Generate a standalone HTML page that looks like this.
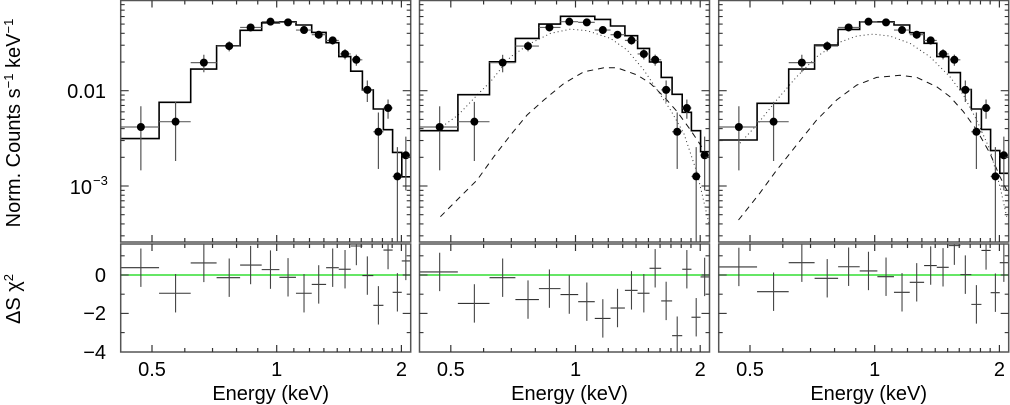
<!DOCTYPE html>
<html><head><meta charset="utf-8"><style>
body{margin:0;background:#fff}
svg{display:block;font-family:"Liberation Sans",sans-serif}
</style></head><body>
<svg id="c" width="1010" height="405" viewBox="0 0 1010 405" xmlns="http://www.w3.org/2000/svg">
<text x="0" y="0" transform="translate(20,123) rotate(-90)" text-anchor="middle" font-size="20">Norm. Counts s<tspan font-size="13" dy="-7">−1</tspan><tspan dy="7"> keV</tspan><tspan font-size="13" dy="-7">−1</tspan></text>
<text x="0" y="0" transform="translate(20,299) rotate(-90)" text-anchor="middle" font-size="20">ΔS χ<tspan font-size="13" dy="-7">2</tspan></text>
<text x="106" y="98" text-anchor="end" font-size="20">0.01</text>
<text x="92" y="194" text-anchor="end" font-size="20">10</text>
<text x="93" y="185" font-size="13">−3</text>
<text x="106" y="282" text-anchor="end" font-size="20">0</text>
<text x="106" y="320" text-anchor="end" font-size="20">−2</text>
<text x="106" y="359" text-anchor="end" font-size="20">−4</text>
</svg>
<script>
const binEdges=[0.420,0.520,0.620,0.716,0.816,0.920,1.015,1.113,1.215,1.316,1.412,1.509,1.61,1.711,1.81,1.905,2.004,2.107];
const energies=[0.47,0.57,0.667,0.768,0.865,0.966,1.065,1.164,1.263,1.365,1.462,1.557,1.655,1.76,1.857,1.956,2.05];
const counts=[0.00416,0.00473,0.0197,0.0294,0.0461,0.0530,0.0521,0.0433,0.0387,0.0337,0.0243,0.0211,0.0102,0.00371,0.00658,0.00126,0.00210];
const countErr=[0.0027,0.0029,0.0041,0.0035,0.004,0.0043,0.0042,0.0036,0.0035,0.0033,0.003,0.0028,0.0026,0.0022,0.0015,0.0013,0.0012];
const model1=[0.00314,0.00755,0.01687,0.0296,0.0430,0.0516,0.0529,0.0489,0.0409,0.0319,0.0228,0.0160,0.0102,0.00643,0.0039,0.00225,0.00125];
const model2=[0.0038,0.00908,0.0201,0.0354,0.050,0.0603,0.0603,0.056,0.0477,0.0378,0.0278,0.020,0.0138,0.00916,0.00593,0.0038,0.00229];
const model3=[0.00304,0.00737,0.01687,0.0301,0.0440,0.0529,0.0529,0.0489,0.0406,0.0314,0.0228,0.0155,0.0103,0.00643,0.00393,0.00235,0.00136];
const dot2E=[0.476,0.521,0.579,0.623,0.697,0.779,0.870,0.973,1.067,1.215,1.333,1.462,1.575,1.696,1.826,1.967,2.099];
const dot2V=[0.00419,0.00556,0.00901,0.0124,0.0227,0.0314,0.0399,0.0443,0.0426,0.0354,0.0267,0.0165,0.0102,0.00627,0.00357,0.00136,0.000406];
const dash2E=[0.472,0.527,0.579,0.635,0.697,0.764,0.839,0.937,1.047,1.171,1.26,1.409,1.517,1.635,1.76,1.895,2.04,2.099];
const dash2V=[0.000476,0.000773,0.00116,0.00203,0.00343,0.00556,0.00798,0.0119,0.0158,0.0174,0.0174,0.0146,0.0119,0.00865,0.00602,0.00387,0.00239,0.00195];
const dot3E=[0.473,0.519,0.580,0.648,0.724,0.809,0.905,0.992,1.089,1.217,1.36,1.52,1.637,1.763,1.898,2.007,2.083];
const dot3V=[0.00281,0.00437,0.00798,0.0140,0.0227,0.0314,0.0374,0.0393,0.0374,0.0314,0.0227,0.0140,0.00901,0.00492,0.00239,0.000984,0.000476];
const dash3E=[0.469,0.528,0.580,0.648,0.724,0.809,0.905,1.011,1.151,1.263,1.412,1.52,1.637,1.763,1.898,2.007,2.083];
const dash3V=[0.00044,0.00084,0.00147,0.00269,0.00492,0.00798,0.01146,0.0138,0.0145,0.0138,0.0110,0.00865,0.00602,0.00387,0.0022,0.00125,0.00091];
const resid1=[0.38,-0.95,0.63,-0.14,0.52,0.28,-0.12,-0.95,-0.49,0.38,0.30,1.51,-0.03,-1.58,1.30,-0.9,0.73];
const resid2=[0.16,-1.48,-0.14,-1.28,-0.71,-1.02,-1.39,-2.26,-1.72,-0.80,-0.95,0.35,-1.35,-3.16,0.30,-2.2,-0.1];
const resid3=[0.42,-0.87,0.64,-0.17,0.43,0.21,-0.09,-0.9,-0.38,0.49,0.40,1.53,0.02,-1.53,1.28,-0.92,0.64];
const xTickLabels=["0.5","1","2"];
const xTickValues=[0.5,1,2];

const NS="http://www.w3.org/2000/svg";
const svg=document.getElementById('c');
const X1=[276.7,575.5,874.7];
const PPO=124.7;
const TOP=0.5,BOT=242,RT=244,RB=352;
function xs(p,E){return X1[p]+PPO*Math.log2(E);}
function ys(v){return 90.7-95.3*(Math.log10(v)+2);}
function yr(r){return 275-19.2*r;}
function mk(tag,attrs,parent){const e=document.createElementNS(NS,tag);for(const k in attrs)e.setAttribute(k,attrs[k]);(parent||svg).appendChild(e);return e;}

const models=[model1,model2,model3];
const resids=[resid1,resid2,resid3];
const comps=[null,[dot2E,dot2V,dash2E,dash2V],[dot3E,dot3V,dash3E,dash3V]];

for(let p=0;p<3;p++){
  const L=X1[p]-156,R=X1[p]+134;
  const g=mk('g',{});
  
  
  const defs=mk('defs',{},g);
  const cp=mk('clipPath',{id:'cp'+p},defs);
  mk('rect',{x:L,y:TOP,width:R-L,height:BOT-TOP},cp);
  const cr=mk('clipPath',{id:'cr'+p},defs);
  mk('rect',{x:L,y:RT,width:R-L,height:RB-RT},cr);
  const top=mk('g',{'clip-path':'url(#cp'+p+')'},g);
  if(comps[p]){
    const [de,dv,se,sv]=comps[p];
    let d='';de.forEach((e,i)=>{d+=(i?'L':'M')+xs(p,e).toFixed(1)+','+ys(dv[i]).toFixed(1);});
    const dl=mk('path',{d:d,fill:'none',stroke:'#333','stroke-width':1,'stroke-dasharray':'1,3'},top);
    
    
    d='';se.forEach((e,i)=>{d+=(i?'L':'M')+xs(p,e).toFixed(1)+','+ys(sv[i]).toFixed(1);});
    const sl=mk('path',{d:d,fill:'none',stroke:'#111','stroke-width':1,'stroke-dasharray':'6,5'},top);
    
    
  }
  const m=models[p];let d='';
  m.forEach((v,i)=>{const y=ys(v).toFixed(1);d+=(i?'L':'M')+xs(p,binEdges[i]).toFixed(1)+','+y+'L'+xs(p,binEdges[i+1]).toFixed(1)+','+y;});
  const ml=mk('path',{d:d,fill:'none',stroke:'#000','stroke-width':1.6},top);
  
  
  energies.forEach((e,i)=>{
    const cx=xs(p,e),cy=ys(counts[i]);
    const lo=Math.max(counts[i]-countErr[i],1e-5),hi=counts[i]+countErr[i];
    const pg=mk('g',{},top);
    
    
    mk('line',{x1:xs(p,binEdges[i]),x2:xs(p,binEdges[i+1]),y1:cy,y2:cy,stroke:'#666','stroke-width':1.2},pg);
    mk('line',{x1:cx,x2:cx,y1:ys(hi),y2:ys(lo),stroke:'#555','stroke-width':1.2},pg);
    mk('circle',{cx:cx,cy:cy,r:4,fill:'#000'},pg);
  });
  const rg=mk('g',{'clip-path':'url(#cr'+p+')'},g);
  const zl=mk('line',{x1:L,x2:R,y1:yr(0),y2:yr(0),stroke:'#33dd33','stroke-width':1.5},rg);
  
  
  resids[p].forEach((r,i)=>{
    const cx=xs(p,energies[i]),cy=yr(r);
    const pg=mk('g',{},rg);
    
    
    mk('line',{x1:xs(p,binEdges[i]),x2:xs(p,binEdges[i+1]),y1:cy,y2:cy,stroke:'#333','stroke-width':1.1},pg);
    mk('line',{x1:cx,x2:cx,y1:yr(r+1),y2:yr(r-1),stroke:'#444','stroke-width':1.1},pg);
  });
  [[TOP,BOT],[RT,RB]].forEach(([a,b],k)=>{
    const f=mk('rect',{x:L,y:a,width:R-L,height:b-a,fill:'none',stroke:'#555','stroke-width':1.5},g);
    
    
    for(let e=0.4;e<=2.11;e=Math.round((e+0.1)*10)/10){
      const x=xs(p,e);if(x<L+1||x>R-1)continue;
      const major=(e===0.5||e===1||e===2);const len=major?7:4;
      mk('line',{x1:x,x2:x,y1:a,y2:a+len,stroke:'#333','stroke-width':1.2},g);
      mk('line',{x1:x,x2:x,y1:b,y2:b-len,stroke:'#333','stroke-width':1.2},g);
    }
  });
  for(let dec=-4;dec<=-1;dec++)for(let k=1;k<=9;k++){
    const v=k*Math.pow(10,dec);const y=ys(v);if(y<TOP+1||y>BOT-1)continue;
    const len=k===1?8:4;
    mk('line',{x1:L,x2:L+len,y1:y,y2:y,stroke:'#333','stroke-width':1.1},g);
    mk('line',{x1:R,x2:R-len,y1:y,y2:y,stroke:'#333','stroke-width':1.1},g);
  }
  for(let r=-4;r<=1;r++){
    const y=yr(r);if(y<RT+1||y>RB-1)continue;const len=(r%2===0)?8:4;
    mk('line',{x1:L,x2:L+len,y1:y,y2:y,stroke:'#333','stroke-width':1.1},g);
    mk('line',{x1:R,x2:R-len,y1:y,y2:y,stroke:'#333','stroke-width':1.1},g);
  }
  xTickValues.forEach((v,i)=>{
    const t=mk('text',{x:xs(p,v),y:376,'text-anchor':'middle','font-size':20},g);
    t.textContent=xTickLabels[i];
    
    
  });
  const xt=mk('text',{x:X1[p]-6,y:400,'text-anchor':'middle','font-size':20},g);
  xt.textContent='Energy (keV)';
  
  
}
</script>
</body></html>
